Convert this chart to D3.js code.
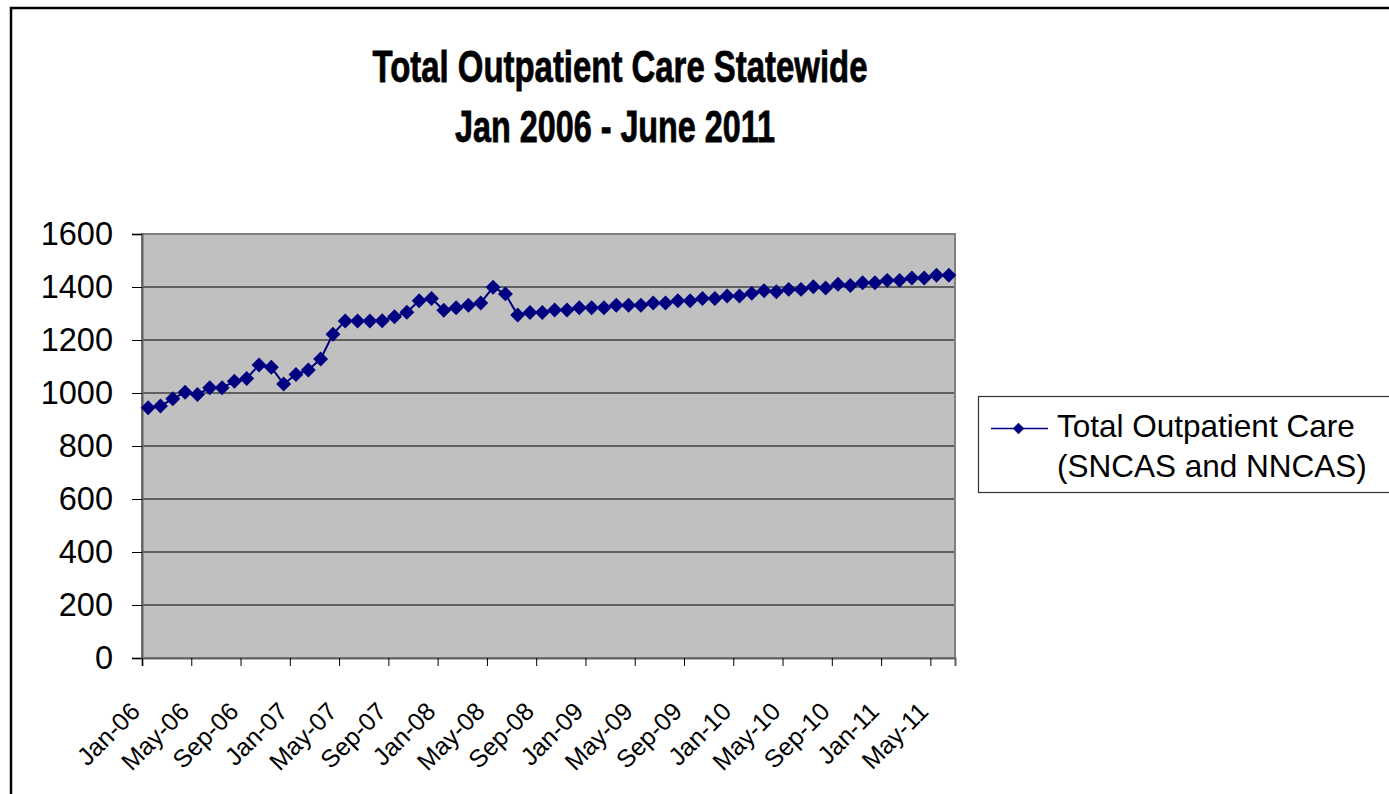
<!DOCTYPE html>
<html>
<head>
<meta charset="utf-8">
<script src="https://cdn.jsdelivr.net/npm/d3@7"></script>
<style>
  html, body { margin: 0; padding: 0; background: #fff; }
  svg { display: block; }
  text { font-family: "Liberation Sans", Arial, Helvetica, sans-serif; fill: #000; }
</style>
</head>
<body>
<svg id="chart" width="1389" height="794"></svg>
<script>
// Monthly totals, Jan 2006 through Jun 2011
const startMonth = new Date(Date.UTC(2006, 0, 1));
const endMonth = new Date(Date.UTC(2011, 6, 1));
const categories = d3.utcMonth.range(startMonth, endMonth).map(d3.utcFormat("%b-%y"));

const outpatientTotals = [
  944, 951, 978, 1003, 994, 1020, 1020, 1044, 1055, 1106, 1097, 1034,
  1070, 1087, 1128, 1222, 1272, 1272, 1272, 1273, 1288, 1305, 1348, 1357,
  1312, 1322, 1331, 1340, 1399, 1374, 1294, 1304, 1304, 1313, 1313, 1322,
  1322, 1322, 1331, 1331, 1331, 1340, 1340, 1348, 1348, 1357, 1357, 1366,
  1366, 1376, 1386, 1382, 1391, 1391, 1401, 1396, 1410, 1406, 1416, 1416,
  1425, 1425, 1434, 1434, 1444, 1444
];

const xTickLabels = [
  "Jan-06", "May-06", "Sep-06", "Jan-07", "May-07", "Sep-07", "Jan-08", "May-08",
  "Sep-08", "Jan-09", "May-09", "Sep-09", "Jan-10", "May-10", "Sep-10", "Jan-11", "May-11"
];
const yTickValues = [0, 200, 400, 600, 800, 1000, 1200, 1400, 1600];

const titleLines = ["Total Outpatient Care Statewide", "Jan 2006 - June 2011"];
const seriesName = ["Total Outpatient Care", "(SNCAS and NNCAS)"];

const svg = d3.select("#chart");
const plot = { left: 142, right: 955, top: 234, bottom: 658 };
const navy = "#000080";

// outer chart frame
svg.append("rect")
  .attr("x", 11).attr("y", 8)
  .attr("width", 1420).attr("height", 820)
  .attr("fill", "#fff").attr("stroke", "#000").attr("stroke-width", 2.5);

// title (narrow bold face, slightly heavier strokes)
const title = svg.append("g")
  .attr("font-weight", "bold").attr("font-size", 45)
  .attr("stroke", "#000").attr("stroke-width", 0.8);
title.append("text").attr("x", 620).attr("y", 82).attr("text-anchor", "middle")
  .attr("textLength", 495).attr("lengthAdjust", "spacingAndGlyphs").text(titleLines[0]);
title.append("text").attr("x", 615).attr("y", 142).attr("text-anchor", "middle")
  .attr("textLength", 320).attr("lengthAdjust", "spacingAndGlyphs").text(titleLines[1]);

// scales: categories occupy equal slots, ticks fall on slot boundaries
const x = d3.scaleLinear().domain([0, categories.length]).range([plot.left, plot.right]);
const y = d3.scaleLinear().domain([0, 1600]).range([plot.bottom, plot.top]);

// plot background
svg.append("rect")
  .attr("x", plot.left).attr("y", plot.top)
  .attr("width", plot.right - plot.left).attr("height", plot.bottom - plot.top)
  .attr("fill", "#c0c0c0");

// gridlines
svg.append("g").selectAll("line")
  .data(yTickValues.filter(v => v > 0 && v < 1600))
  .join("line")
  .attr("x1", plot.left).attr("x2", plot.right)
  .attr("y1", d => y(d)).attr("y2", d => y(d))
  .attr("stroke", "#000").attr("stroke-width", 1);

// plot border
svg.append("rect")
  .attr("x", plot.left).attr("y", plot.top)
  .attr("width", plot.right - plot.left).attr("height", plot.bottom - plot.top)
  .attr("fill", "none").attr("stroke", "#808080").attr("stroke-width", 2);

// y axis
const yAxis = svg.append("g")
  .attr("transform", `translate(${plot.left},0)`)
  .call(d3.axisLeft(y).tickValues(yTickValues).tickSize(10).tickPadding(19).tickFormat(d3.format("d")));
yAxis.select(".domain").attr("stroke", "#606060").attr("stroke-width", 2);
yAxis.selectAll(".tick line").attr("stroke", "#000");
yAxis.selectAll(".tick text").attr("font-size", 32.5).attr("font-family", null);

// x axis
const xTickIdx = xTickLabels.map((_, i) => i * 4);
const xAxis = svg.append("g")
  .attr("transform", `translate(0,${plot.bottom})`)
  .call(d3.axisBottom(x).tickValues(xTickIdx).tickSize(8).tickFormat(d => xTickLabels[d / 4]));
xAxis.select(".domain").attr("stroke", "#606060").attr("stroke-width", 2);
xAxis.selectAll(".tick line").attr("stroke", "#000");
xAxis.selectAll(".tick text")
  .attr("font-size", 25).attr("font-family", null)
  .attr("text-anchor", "end")
  .attr("x", 0).attr("y", 0).attr("dy", 0)
  .attr("transform", "translate(-1,55) rotate(-45)");

// series line and diamond markers
const cx = i => x(i + 0.5);
svg.append("path")
  .datum(outpatientTotals)
  .attr("fill", "none").attr("stroke", navy).attr("stroke-width", 2)
  .attr("d", d3.line().x((d, i) => cx(i)).y(d => y(d)));

const diamond = d3.symbol().type(d3.symbolSquare).size(112);
svg.append("g").selectAll("path")
  .data(outpatientTotals)
  .join("path")
  .attr("d", diamond)
  .attr("fill", navy)
  .attr("transform", (d, i) => `translate(${cx(i)},${y(d)}) rotate(45)`);

// legend
const legend = svg.append("g");
legend.append("rect")
  .attr("x", 978.5).attr("y", 396.5).attr("width", 420).attr("height", 96)
  .attr("fill", "#fff").attr("stroke", "#333").attr("stroke-width", 1.2);
legend.append("line")
  .attr("x1", 991).attr("x2", 1048).attr("y1", 428.5).attr("y2", 428.5)
  .attr("stroke", navy).attr("stroke-width", 1.6);
legend.append("path")
  .attr("d", d3.symbol().type(d3.symbolSquare).size(64))
  .attr("fill", navy)
  .attr("transform", "translate(1018.5,428.5) rotate(45)");
legend.selectAll("text.lbl")
  .data(seriesName)
  .join("text")
  .attr("class", "lbl")
  .attr("x", 1057).attr("y", (d, i) => 437 + i * 40)
  .attr("font-size", 31.5)
  .text(d => d);
</script>
</body>
</html>
